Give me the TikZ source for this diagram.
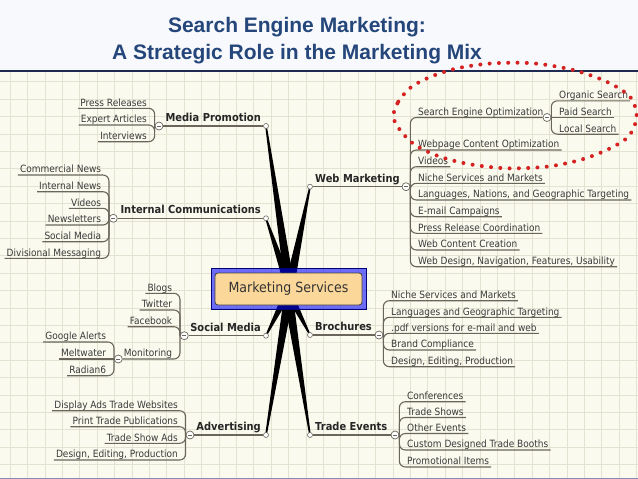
\documentclass[tikz,border=0pt]{standalone}
\usepackage{fontspec}
\newfontfamily\mmfont{DejaVu Sans}[FakeStretch=0.9]
\newfontfamily\titlefont{Liberation Sans}
\definecolor{titleblue}{HTML}{24467A}
\definecolor{gridbg}{HTML}{FBFAEE}
\definecolor{gridln}{HTML}{E4E3D2}
\definecolor{topbg}{HTML}{F8F9FC}
\definecolor{sepcol}{HTML}{1E2A52}
\definecolor{botcol}{HTML}{8A8AB8}
\definecolor{linecol}{HTML}{6A665C}
\definecolor{leafcol}{HTML}{3A3A3A}
\definecolor{boxorange}{HTML}{FBD89A}
\definecolor{dotred}{HTML}{D42222}
\newcommand\mmspoke[2]{\fill[black] ([xshift=-0.8pt]#1) -- ([xshift=#2-5pt]hub) -- ([xshift=#2+5pt]hub) -- ([xshift=0.8pt]#1) -- cycle;}
\begin{document}
\begin{tikzpicture}[x=1pt,y=-1pt,
 leaf/.style={font=\mmfont\fontsize{10}{12}\selectfont, text=leafcol, inner xsep=2pt, inner ysep=0pt, text height=7.5pt, text depth=2pt},
 blabel/.style={font=\mmfont\bfseries\fontsize{11}{13}\selectfont, text=black!85, inner sep=0pt, text height=8pt, text depth=2pt},
 coll/.style={circle, draw=linecol, fill=white, line width=0.7pt, minimum size=8pt, inner sep=0pt,
   path picture={\draw[linecol, line width=0.6pt] ([xshift=-2pt]path picture bounding box.center) -- ([xshift=2pt]path picture bounding box.center);}},
 tip/.style={circle, draw=linecol, fill=white, line width=0.6pt, minimum size=5pt, inner sep=0pt},
 uline/.style={draw=linecol, line width=1.1pt, rounded corners=6pt},
 bline/.style={draw=linecol, line width=1.1pt},
 titletext/.style={font=\titlefont\bfseries\fontsize{21}{25}\selectfont, text=titleblue, anchor=base, inner sep=0pt},
 reddots/.style={draw=dotred, line width=4pt, line cap=round, dash pattern=on 0pt off 9.3pt}
]
\useasboundingbox (0,0) rectangle (638,479);
% backgrounds
\fill[topbg] (0,0) rectangle (638,71);
\fill[gridbg] (0,71) rectangle (638,479);
\foreach \i in {0,...,36} \draw[gridln, line width=0.6pt] ({10+17.4*\i},71) -- ({10+17.4*\i},478);
\foreach \j in {0,...,22} \draw[gridln, line width=0.6pt] (0,{81.7+17.4*\j}) -- (638,{81.7+17.4*\j});
\draw[sepcol, line width=1.5pt] (0,71) -- (638,71);
\draw[botcol, line width=1.5pt] (0,478.3) -- (638,478.3);
% title
\node[titletext] (t1) at (297,32.3) {Search Engine Marketing:};
\node[titletext] (t2) at (297,59) {A Strategic Role in the Marketing Mix};

% hub and spokes
\coordinate (hub) at (288.5,288.5);
\coordinate (mpP) at (266,126);
\coordinate (icP) at (266,218.3);
\coordinate (wmP) at (310,186.7);
\coordinate (smP) at (266,335.7);
\coordinate (brP) at (310,335);
\coordinate (adP) at (266,435);
\coordinate (teP) at (310,435);
\mmspoke{mpP}{1.5pt}
\mmspoke{icP}{1.5pt}
\mmspoke{wmP}{0.5pt}
\mmspoke{smP}{1.5pt}
\mmspoke{brP}{-2.5pt}
\mmspoke{adP}{1.5pt}
\mmspoke{teP}{-1.5pt}
\node[draw=blue!45!black, line width=0.8pt, fill=blue, fill opacity=0.56, draw opacity=1, minimum width=155pt, minimum height=41pt, inner sep=0pt] (msout) at (hub) {};
\node[draw=black!75, fill=boxorange, rounded corners=3pt, minimum width=147pt, minimum height=32pt, line width=0.8pt, font=\mmfont\fontsize{14}{16}\selectfont, text=black!80] (ms) at (288.5,289) {Marketing Services};

% tips
\foreach \n in {mp,ic,wm,sm,br,ad,te} \node[tip] (\n N) at (\n P) {};

% ---------- Media Promotion ----------
\node[coll] (mpC) at (159,126) {};
\draw[bline] (mpN) -- (mpC);
\node[blabel, anchor=south east] (mpL) at (261,123.7) {Media Promotion};
\node[leaf, anchor=south east] (mp1) at (149,108.3) {Press Releases};
\node[leaf, anchor=south east] (mp2) at (149,125) {Expert Articles};
\node[leaf, anchor=south east] (mp3) at (149,141.7) {Interviews};
\foreach \k in {1,2,3} \draw[uline] (mpC.west) |- (mp\k.south west);

% ---------- Internal Communications ----------
\node[coll] (icC) at (113.3,218.3) {};
\draw[bline] (icN) -- (icC);
\node[blabel, anchor=south east] (icL) at (261,216) {Internal Communications};
\node[leaf, anchor=south east] (ic1) at (103.3,175) {Commercial News};
\node[leaf, anchor=south east] (ic2) at (103.3,191.7) {Internal News};
\node[leaf, anchor=south east] (ic3) at (103.3,208.3) {Videos};
\node[leaf, anchor=south east] (ic4) at (103.3,225) {Newsletters};
\node[leaf, anchor=south east] (ic5) at (103.3,241.7) {Social Media};
\node[leaf, anchor=south east] (ic6) at (103.3,258.3) {Divisional Messaging};
\foreach \k in {1,...,6} \draw[uline] (icC.west) |- (ic\k.south west);

% ---------- Web Marketing ----------
\node[coll] (wmC) at (406,186.7) {};
\draw[bline] (wmN) -- (wmC);
\node[blabel, anchor=south west] (wmL) at (315,184.4) {Web Marketing};
\node[coll] (seoC) at (547,117.5) {};
\node[leaf, anchor=south west] (seo) at (416,117.5) {Search Engine Optimization};
\draw[uline] (wmC.east) |- (seoC.west);
\node[leaf, anchor=south west] (wm2) at (416,150) {Webpage Content Optimization};
\node[leaf, anchor=south west] (wm3) at (416,166.7) {Videos};
\node[leaf, anchor=south west] (wm4) at (416,183.3) {Niche Services and Markets};
\node[leaf, anchor=south west] (wm5) at (416,200) {Languages, Nations, and Geographic Targeting};
\node[leaf, anchor=south west] (wm6) at (416,216.7) {E-mail Campaigns};
\node[leaf, anchor=south west] (wm7) at (416,233.3) {Press Release Coordination};
\node[leaf, anchor=south west] (wm8) at (416,250) {Web Content Creation};
\node[leaf, anchor=south west] (wm9) at (416,266.7) {Web Design, Navigation, Features, Usability};
\foreach \k in {2,...,9} \draw[uline] (wmC.east) |- (wm\k.south east);
\node[leaf, anchor=south west] (seo1) at (557,100.8) {Organic Search};
\node[leaf, anchor=south west] (seo2) at (557,117.5) {Paid Search};
\node[leaf, anchor=south west] (seo3) at (557,134.2) {Local Search};
\draw[uline] (seoC.east) |- (seo1.south east);
\draw[bline] (seoC.east) -- (seo2.south east);
\draw[uline] (seoC.east) |- (seo3.south east);

% ---------- Social Media ----------
\node[coll] (smC) at (184.3,335.7) {};
\draw[bline] (smN) -- (smC);
\node[blabel, anchor=south east] (smL) at (261,333.4) {Social Media};
\node[leaf, anchor=south east] (sm1) at (174.3,293.3) {Blogs};
\node[leaf, anchor=south east] (sm2) at (174.3,310) {Twitter};
\node[leaf, anchor=south east] (sm3) at (174.3,326.7) {Facebook};
\foreach \k in {1,2,3} \draw[uline] (smC.west) |- (sm\k.south west);
\node[coll] (monC) at (118.3,359) {};
\node[leaf, anchor=south east] (mon) at (174.3,359) {Monitoring};
\draw[uline] (smC.west) |- (monC.east);
\node[leaf, anchor=south east] (mo1) at (108.3,342) {Google Alerts};
\node[leaf, anchor=south east] (mo2) at (108.3,359) {Meltwater};
\node[leaf, anchor=south east] (mo3) at (108.3,375.7) {Radian6};
\draw[uline] (monC.west) |- (mo1.south west);
\draw[bline] (monC.west) -- (mo2.south west);
\draw[uline] (monC.west) |- (mo3.south west);

% ---------- Brochures ----------
\node[coll] (brC) at (379,335) {};
\draw[bline] (brN) -- (brC);
\node[blabel, anchor=south west] (brL) at (315,332.7) {Brochures};
\node[leaf, anchor=south west] (br1) at (389,300.7) {Niche Services and Markets};
\node[leaf, anchor=south west] (br2) at (389,317.3) {Languages and Geographic Targeting};
\node[leaf, anchor=south west] (br3) at (389,333.3) {.pdf versions for e-mail and web};
\node[leaf, anchor=south west] (br4) at (389,350) {Brand Compliance};
\node[leaf, anchor=south west] (br5) at (389,366.7) {Design, Editing, Production};
\foreach \k in {1,...,5} \draw[uline] (brC.east) |- (br\k.south east);

% ---------- Advertising ----------
\node[coll] (adC) at (190,435) {};
\draw[bline] (adN) -- (adC);
\node[blabel, anchor=south east] (adL) at (261,432.7) {Advertising};
\node[leaf, anchor=south east] (ad1) at (180,410.7) {Display Ads Trade Websites};
\node[leaf, anchor=south east] (ad2) at (180,426.7) {Print Trade Publications};
\node[leaf, anchor=south east] (ad3) at (180,443.3) {Trade Show Ads};
\node[leaf, anchor=south east] (ad4) at (180,460) {Design, Editing, Production};
\foreach \k in {1,...,4} \draw[uline] (adC.west) |- (ad\k.south west);

% ---------- Trade Events ----------
\node[coll] (teC) at (395,435) {};
\draw[bline] (teN) -- (teC);
\node[blabel, anchor=south west] (teL) at (315,432.7) {Trade Events};
\node[leaf, anchor=south west] (te1) at (405,401.7) {Conferences};
\node[leaf, anchor=south west] (te2) at (405,417.5) {Trade Shows};
\node[leaf, anchor=south west] (te3) at (405,433.5) {Other Events};
\node[leaf, anchor=south west] (te4) at (405,450) {Custom Designed Trade Booths};
\node[leaf, anchor=south west] (te5) at (405,467) {Promotional Items};
\foreach \k in {1,...,5} \draw[uline] (teC.east) |- (te\k.south east);

% red dotted highlight
\draw[reddots] plot[smooth cycle] coordinates {(393.3,116.7) (398.3,101.7) (411.7,86.7) (433.3,75.7) (460,67.7) (493.3,63.3) (533.3,63.3) (573.3,70) (606.7,81.7) (630,96.7) (636.7,116.7) (628.3,136.7) (606.7,150) (580,160) (546.7,166.7) (506.7,168.3) (470,164.3) (440,156.7) (415,145) (400,130)};
\end{tikzpicture}
\end{document}
